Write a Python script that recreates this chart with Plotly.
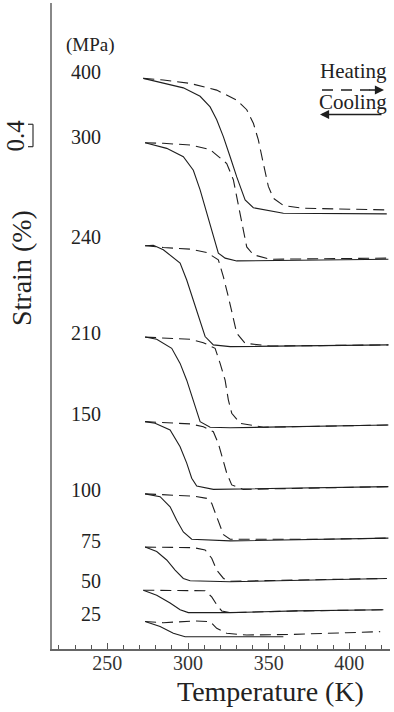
import plotly.graph_objects as go

# ---- stress levels (MPa) and label positions (strain offset, %) ----
stress_levels = ["400", "300", "240", "210", "150", "100", "75", "50", "25"]
label_strain = [10.30, 9.15, 7.35, 5.64, 4.20, 2.84, 1.93, 1.21, 0.63]

# ---- cooling curves (solid): temperature (K), strain (%, stacked offset) ----
T_cool_400 = [272.3, 284.7, 297.1, 307.5, 313.7, 317.8, 321.9, 326.1, 330.2, 335.4, 340.5, 359.1, 423.2]
S_cool_400 = [10.19, 10.11, 10.02, 9.87, 9.68, 9.45, 9.15, 8.79, 8.43, 8.02, 7.88, 7.78, 7.77]
T_cool_300 = [273.4, 286.8, 297.1, 303.3, 307.5, 311.6, 315.7, 318.8, 323.0, 330.2, 424.2]
S_cool_300 = [9.04, 8.94, 8.79, 8.55, 8.20, 7.78, 7.36, 7.07, 6.98, 6.93, 6.96]
T_cool_240 = [273.4, 278.5, 284.7, 295.1, 299.2, 303.3, 307.5, 310.6, 315.7, 326.1, 424.2]
S_cool_240 = [7.20, 7.21, 7.13, 6.89, 6.59, 6.23, 5.82, 5.58, 5.43, 5.40, 5.43]
T_cool_210 = [273.4, 280.6, 289.9, 295.1, 299.2, 303.3, 307.5, 313.7, 326.1, 424.2]
S_cool_210 = [5.57, 5.53, 5.37, 5.10, 4.80, 4.45, 4.06, 3.96, 3.95, 4.00]
T_cool_150 = [273.4, 279.6, 288.9, 295.1, 299.2, 302.3, 305.4, 315.7, 424.2]
S_cool_150 = [4.06, 4.03, 3.91, 3.61, 3.32, 3.05, 2.91, 2.85, 2.90]
T_cool_100 = [273.4, 282.7, 288.9, 293.0, 297.1, 302.3, 326.1, 381.9, 424.2]
S_cool_100 = [2.77, 2.72, 2.54, 2.30, 2.09, 1.96, 1.93, 1.96, 1.98]
T_cool_75 = [273.4, 280.6, 286.8, 292.0, 297.1, 301.3, 326.1, 377.7, 423.2]
S_cool_75 = [1.82, 1.74, 1.59, 1.41, 1.26, 1.22, 1.20, 1.23, 1.26]
T_cool_50 = [272.3, 280.6, 288.9, 295.1, 300.2, 326.1, 367.4, 421.1]
S_cool_50 = [1.05, 0.96, 0.82, 0.70, 0.65, 0.65, 0.68, 0.70]
T_cool_25 = [273.4, 282.7, 290.9, 298.2, 359.1]
S_cool_25 = [0.49, 0.40, 0.28, 0.22, 0.22]

# ---- heating curves (dashed) ----
T_heat_400 = [272.3, 284.7, 301.3, 317.8, 330.2, 336.4, 340.5, 343.6, 346.7, 349.8, 352.9, 359.1, 371.5, 425.0]
S_heat_400 = [10.19, 10.16, 10.10, 9.98, 9.80, 9.63, 9.39, 9.09, 8.67, 8.26, 8.05, 7.92, 7.87, 7.84]
T_heat_300 = [273.4, 284.7, 301.3, 313.7, 317.8, 324.0, 328.1, 331.2, 334.3, 336.4, 340.5, 350.9, 424.2]
S_heat_300 = [9.04, 9.03, 9.00, 8.92, 8.82, 8.67, 8.38, 7.96, 7.48, 7.18, 7.04, 6.96, 6.98]
T_heat_240 = [273.4, 284.7, 301.3, 311.6, 318.8, 321.9, 325.0, 328.1, 330.2, 335.4, 350.9, 424.2]
S_heat_240 = [7.20, 7.17, 7.14, 7.08, 6.95, 6.65, 6.29, 5.93, 5.64, 5.46, 5.41, 5.43]
T_heat_210 = [273.4, 301.3, 309.5, 316.8, 319.9, 323.0, 325.0, 327.1, 332.3, 346.7, 424.2]
S_heat_210 = [5.57, 5.53, 5.47, 5.37, 5.10, 4.80, 4.45, 4.21, 4.03, 3.96, 4.00]
T_heat_150 = [273.4, 301.3, 309.5, 315.7, 318.8, 321.9, 324.0, 327.1, 334.3, 424.2]
S_heat_150 = [4.06, 4.02, 3.97, 3.88, 3.67, 3.38, 3.14, 2.93, 2.85, 2.90]
T_heat_100 = [273.4, 303.3, 311.6, 314.7, 317.8, 319.9, 322.0, 326.1, 381.9, 424.2]
S_heat_100 = [2.77, 2.73, 2.69, 2.60, 2.36, 2.18, 2.04, 1.96, 1.96, 1.98]
T_heat_75 = [273.4, 303.3, 310.6, 314.7, 317.8, 322.0, 326.1, 377.7, 423.2]
S_heat_75 = [1.82, 1.81, 1.77, 1.62, 1.41, 1.26, 1.21, 1.23, 1.26]
T_heat_50 = [272.3, 301.3, 310.6, 314.7, 317.8, 320.9, 326.1, 367.4, 421.1]
S_heat_50 = [1.05, 1.05, 1.04, 0.93, 0.79, 0.68, 0.65, 0.68, 0.70]
T_heat_25 = [273.4, 284.7, 304.4, 313.7, 317.8, 324.0, 336.4, 363.3, 398.4, 419.1]
S_heat_25 = [0.49, 0.47, 0.50, 0.49, 0.37, 0.28, 0.25, 0.26, 0.29, 0.31]

x_ticks = [250, 300, 350, 400]
scale_bar_strain = 0.4
scale_bar_base = 8.97

cooling = [(T_cool_400, S_cool_400), (T_cool_300, S_cool_300), (T_cool_240, S_cool_240),
           (T_cool_210, S_cool_210), (T_cool_150, S_cool_150), (T_cool_100, S_cool_100),
           (T_cool_75, S_cool_75), (T_cool_50, S_cool_50), (T_cool_25, S_cool_25)]
heating = [(T_heat_400, S_heat_400), (T_heat_300, S_heat_300), (T_heat_240, S_heat_240),
           (T_heat_210, S_heat_210), (T_heat_150, S_heat_150), (T_heat_100, S_heat_100),
           (T_heat_75, S_heat_75), (T_heat_50, S_heat_50), (T_heat_25, S_heat_25)]

LINE = "#1e1e1e"
SERIF = "Liberation Serif, Times New Roman, Times, serif"

fig = go.Figure()
for T, S in heating:
    fig.add_trace(go.Scatter(x=T, y=S, mode="lines", line=dict(color=LINE, width=1.1, dash="11px,6px"),
                             showlegend=False, hoverinfo="skip"))
for T, S in cooling:
    fig.add_trace(go.Scatter(x=T, y=S, mode="lines", line=dict(color=LINE, width=1.1),
                             showlegend=False, hoverinfo="skip"))

W, H = 394, 712
L, R, TOP, B = 52, 4, 3, 63
pw, ph = W - L - R, H - TOP - B

def px(xp):
    return (xp - L) / pw

def py(yp):
    return (H - B - yp) / ph

annotations = []
label_x = [247.2] * len(stress_levels)
for lab, ys, xs in zip(stress_levels, label_strain, label_x):
    annotations.append(dict(x=xs, y=ys, xref="x", yref="y", text=lab, showarrow=False,
                            xanchor="right", yanchor="middle",
                            font=dict(family=SERIF, size=20, color="#222")))
annotations.append(dict(x=239.3, y=10.79, xref="x", yref="y", text="(MPa)", showarrow=False,
                        xanchor="center", yanchor="middle", font=dict(family=SERIF, size=19, color="#222")))
# axis titles
annotations.append(dict(x=px(270), y=py(691), xref="paper", yref="paper", text="Temperature (K)",
                        showarrow=False, xanchor="center", yanchor="middle",
                        font=dict(family=SERIF, size=28, color="#222")))
annotations.append(dict(x=px(21), y=py(268), xref="paper", yref="paper", text="Strain (%)",
                        showarrow=False, xanchor="center", yanchor="middle", textangle=-90,
                        font=dict(family=SERIF, size=28, color="#222")))
annotations.append(dict(x=px(15), y=scale_bar_base + scale_bar_strain / 2, xref="paper", yref="y", text="0.4",
                        showarrow=False, xanchor="center", yanchor="middle", textangle=-90,
                        font=dict(family=SERIF, size=25, color="#222")))
# legend texts
annotations.append(dict(x=px(353.5), y=py(71), xref="paper", yref="paper", text="Heating",
                        showarrow=False, xanchor="center", yanchor="middle",
                        font=dict(family=SERIF, size=21, color="#222")))
annotations.append(dict(x=px(353), y=py(102), xref="paper", yref="paper", text="Cooling",
                        showarrow=False, xanchor="center", yanchor="middle",
                        font=dict(family=SERIF, size=21, color="#222")))
# arrowheads
annotations.append(dict(x=px(384), y=py(90), xref="paper", yref="paper", ax=-16, ay=0,
                        axref="pixel", ayref="pixel", text="", showarrow=True, arrowhead=2,
                        arrowsize=1.4, arrowwidth=1.3, arrowcolor=LINE))
annotations.append(dict(x=px(320), y=py(114.5), xref="paper", yref="paper", ax=63, ay=0,
                        axref="pixel", ayref="pixel", text="", showarrow=True, arrowhead=2,
                        arrowsize=1.4, arrowwidth=1.3, arrowcolor=LINE))

shapes = [
    dict(type="line", xref="paper", yref="paper", x0=px(322), x1=px(370), y0=py(90), y1=py(90),
         line=dict(color=LINE, width=1.3, dash="11px,8px")),
    # scale bar bracket
    dict(type="line", xref="paper", yref="y", x0=px(33), x1=px(33), y0=scale_bar_base,
         y1=scale_bar_base + scale_bar_strain, line=dict(color="#333", width=1.2)),
    dict(type="line", xref="paper", yref="y", x0=px(28), x1=px(33), y0=scale_bar_base,
         y1=scale_bar_base, line=dict(color="#333", width=1.2)),
    dict(type="line", xref="paper", yref="y", x0=px(28), x1=px(33), y0=scale_bar_base + scale_bar_strain,
         y1=scale_bar_base + scale_bar_strain, line=dict(color="#333", width=1.2)),
]

fig.update_layout(
    width=W, height=H,
    margin=dict(l=L, r=R, t=TOP, b=B, pad=0),
    paper_bgcolor="white", plot_bgcolor="white",
    showlegend=False,
    font=dict(family=SERIF),
    annotations=annotations,
    shapes=shapes,
    xaxis=dict(range=[215.7, 425.2], showgrid=False, zeroline=False, showline=True,
               linecolor="#666", linewidth=1.6, ticks="inside", ticklen=6, tickwidth=1.2,
               tickcolor="#555", tickvals=x_ticks, ticklabelstandoff=-5,
               tickfont=dict(family=SERIF, size=20, color="#333"),
               minor=dict(dtick=10, tick0=0, ticks="inside", ticklen=4, tickwidth=1, tickcolor="#555")),
    yaxis=dict(range=[0, (H - B - TOP) / 56.0], showgrid=False, zeroline=False, showline=True,
               linecolor="#888", linewidth=1.8, showticklabels=False, ticks=""),
)

fig.write_html("out.html")
